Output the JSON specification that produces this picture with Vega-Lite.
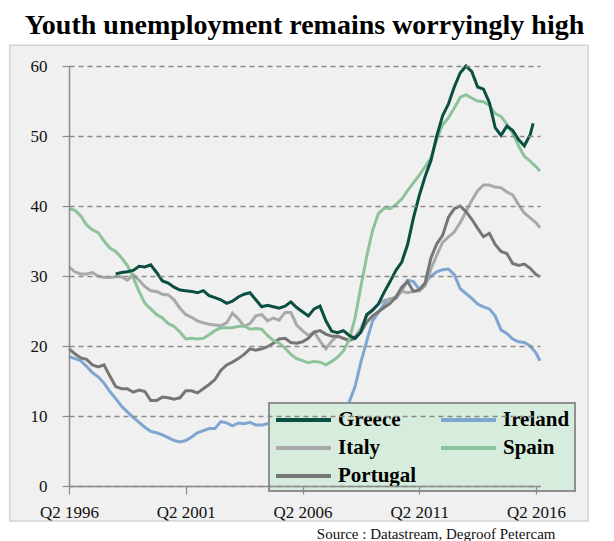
{
"$schema": "https://vega.github.io/schema/vega-lite/v6.json",
"width": 471, "height": 420,
"autosize": {"type": "none"},
"padding": {"left": 69, "top": 66, "right": 74, "bottom": 55},
"background": "white",
"title": {"text": "Youth unemployment remains worryingly high", "font": "Liberation Serif", "fontSize": 28, "fontWeight": "bold", "color": "black", "anchor": "middle", "baseline": "alphabetic", "offset": 11, "dy": 28},
"config": {"view": {"stroke": null}, "font": "Liberation Serif"},
"datasets": {
"series": [
{"country":"Ireland","year":1996.25,"rate":18.5},{"country":"Ireland","year":1996.5,"rate":18.2},{"country":"Ireland","year":1996.75,"rate":17.9},{"country":"Ireland","year":1997,"rate":17.1},{"country":"Ireland","year":1997.25,"rate":16.2},{"country":"Ireland","year":1997.5,"rate":15.6},{"country":"Ireland","year":1997.75,"rate":14.7},{"country":"Ireland","year":1998,"rate":13.5},{"country":"Ireland","year":1998.25,"rate":12.5},{"country":"Ireland","year":1998.5,"rate":11.4},
{"country":"Ireland","year":1998.75,"rate":10.6},{"country":"Ireland","year":1999,"rate":9.8},{"country":"Ireland","year":1999.25,"rate":9.1},{"country":"Ireland","year":1999.5,"rate":8.4},{"country":"Ireland","year":1999.75,"rate":7.8},{"country":"Ireland","year":2000,"rate":7.6},{"country":"Ireland","year":2000.25,"rate":7.3},{"country":"Ireland","year":2000.5,"rate":6.9},{"country":"Ireland","year":2000.75,"rate":6.5},{"country":"Ireland","year":2001,"rate":6.3},
{"country":"Ireland","year":2001.25,"rate":6.5},{"country":"Ireland","year":2001.5,"rate":7.0},{"country":"Ireland","year":2001.75,"rate":7.6},{"country":"Ireland","year":2002,"rate":7.9},{"country":"Ireland","year":2002.25,"rate":8.2},{"country":"Ireland","year":2002.5,"rate":8.2},{"country":"Ireland","year":2002.75,"rate":9.2},{"country":"Ireland","year":2003,"rate":9.0},{"country":"Ireland","year":2003.25,"rate":8.6},{"country":"Ireland","year":2003.5,"rate":9.0},
{"country":"Ireland","year":2003.75,"rate":8.9},{"country":"Ireland","year":2004,"rate":9.1},{"country":"Ireland","year":2004.25,"rate":8.7},{"country":"Ireland","year":2004.5,"rate":8.7},{"country":"Ireland","year":2004.75,"rate":8.9},{"country":"Ireland","year":2005,"rate":9.0},{"country":"Ireland","year":2005.25,"rate":8.8},{"country":"Ireland","year":2005.5,"rate":8.7},{"country":"Ireland","year":2005.75,"rate":8.6},{"country":"Ireland","year":2006,"rate":8.5},
{"country":"Ireland","year":2006.25,"rate":8.6},{"country":"Ireland","year":2006.5,"rate":8.8},{"country":"Ireland","year":2006.75,"rate":8.9},{"country":"Ireland","year":2007,"rate":8.8},{"country":"Ireland","year":2007.25,"rate":8.7},{"country":"Ireland","year":2007.5,"rate":8.9},{"country":"Ireland","year":2007.75,"rate":9.5},{"country":"Ireland","year":2008,"rate":10.5},{"country":"Ireland","year":2008.25,"rate":12.0},{"country":"Ireland","year":2008.5,"rate":14.2},
{"country":"Ireland","year":2008.75,"rate":17.7},{"country":"Ireland","year":2009,"rate":20.7},{"country":"Ireland","year":2009.25,"rate":23.6},{"country":"Ireland","year":2009.5,"rate":24.8},{"country":"Ireland","year":2009.75,"rate":26.0},{"country":"Ireland","year":2010,"rate":26.8},{"country":"Ireland","year":2010.25,"rate":26.8},{"country":"Ireland","year":2010.5,"rate":27.9},{"country":"Ireland","year":2010.75,"rate":29.4},{"country":"Ireland","year":2011,"rate":29.2},
{"country":"Ireland","year":2011.25,"rate":28.1},{"country":"Ireland","year":2011.5,"rate":29.0},{"country":"Ireland","year":2011.75,"rate":30.0},{"country":"Ireland","year":2012,"rate":30.6},{"country":"Ireland","year":2012.25,"rate":30.9},{"country":"Ireland","year":2012.5,"rate":31.0},{"country":"Ireland","year":2012.75,"rate":30.2},{"country":"Ireland","year":2013,"rate":28.2},{"country":"Ireland","year":2013.25,"rate":27.5},{"country":"Ireland","year":2013.5,"rate":26.8},
{"country":"Ireland","year":2013.75,"rate":26.0},{"country":"Ireland","year":2014,"rate":25.6},{"country":"Ireland","year":2014.25,"rate":25.3},{"country":"Ireland","year":2014.5,"rate":24.3},{"country":"Ireland","year":2014.75,"rate":22.3},{"country":"Ireland","year":2015,"rate":21.8},{"country":"Ireland","year":2015.25,"rate":21.0},{"country":"Ireland","year":2015.5,"rate":20.6},{"country":"Ireland","year":2015.75,"rate":20.5},{"country":"Ireland","year":2016,"rate":20.0},
{"country":"Ireland","year":2016.25,"rate":19.0},{"country":"Ireland","year":2016.42,"rate":17.9},

{"country":"Italy","year":1996.25,"rate":31.3},{"country":"Italy","year":1996.5,"rate":30.6},{"country":"Italy","year":1996.75,"rate":30.3},{"country":"Italy","year":1997,"rate":30.3},{"country":"Italy","year":1997.25,"rate":30.5},{"country":"Italy","year":1997.5,"rate":30.0},{"country":"Italy","year":1997.75,"rate":29.8},{"country":"Italy","year":1998,"rate":29.8},{"country":"Italy","year":1998.25,"rate":29.9},{"country":"Italy","year":1998.5,"rate":29.9},
{"country":"Italy","year":1998.75,"rate":29.4},{"country":"Italy","year":1999,"rate":30.2},{"country":"Italy","year":1999.25,"rate":29.4},{"country":"Italy","year":1999.5,"rate":28.5},{"country":"Italy","year":1999.75,"rate":27.9},{"country":"Italy","year":2000,"rate":27.8},{"country":"Italy","year":2000.25,"rate":27.4},{"country":"Italy","year":2000.5,"rate":27.3},{"country":"Italy","year":2000.75,"rate":26.6},{"country":"Italy","year":2001,"rate":25.4},
{"country":"Italy","year":2001.25,"rate":24.5},{"country":"Italy","year":2001.5,"rate":24.1},{"country":"Italy","year":2001.75,"rate":23.6},{"country":"Italy","year":2002,"rate":23.3},{"country":"Italy","year":2002.25,"rate":23.1},{"country":"Italy","year":2002.5,"rate":23.0},{"country":"Italy","year":2002.75,"rate":22.9},{"country":"Italy","year":2003,"rate":23.3},{"country":"Italy","year":2003.25,"rate":24.7},{"country":"Italy","year":2003.5,"rate":23.9},
{"country":"Italy","year":2003.75,"rate":22.8},{"country":"Italy","year":2004,"rate":23.2},{"country":"Italy","year":2004.25,"rate":24.3},{"country":"Italy","year":2004.5,"rate":24.5},{"country":"Italy","year":2004.75,"rate":23.6},{"country":"Italy","year":2005,"rate":24.0},{"country":"Italy","year":2005.25,"rate":23.7},{"country":"Italy","year":2005.5,"rate":24.8},{"country":"Italy","year":2005.75,"rate":24.8},{"country":"Italy","year":2006,"rate":23.0},
{"country":"Italy","year":2006.25,"rate":22.2},{"country":"Italy","year":2006.5,"rate":21.5},{"country":"Italy","year":2006.75,"rate":22.0},{"country":"Italy","year":2007,"rate":20.7},{"country":"Italy","year":2007.25,"rate":19.6},{"country":"Italy","year":2007.5,"rate":20.7},{"country":"Italy","year":2007.75,"rate":21.4},{"country":"Italy","year":2008,"rate":21.1},{"country":"Italy","year":2008.25,"rate":20.8},{"country":"Italy","year":2008.5,"rate":21.3},
{"country":"Italy","year":2008.75,"rate":22.5},{"country":"Italy","year":2009,"rate":24.3},{"country":"Italy","year":2009.25,"rate":25.2},{"country":"Italy","year":2009.5,"rate":26.0},{"country":"Italy","year":2009.75,"rate":26.5},{"country":"Italy","year":2010,"rate":26.7},{"country":"Italy","year":2010.25,"rate":27.0},{"country":"Italy","year":2010.5,"rate":27.8},{"country":"Italy","year":2010.75,"rate":27.6},{"country":"Italy","year":2011,"rate":27.8},
{"country":"Italy","year":2011.25,"rate":27.9},{"country":"Italy","year":2011.5,"rate":28.6},{"country":"Italy","year":2011.75,"rate":31.0},{"country":"Italy","year":2012,"rate":33.0},{"country":"Italy","year":2012.25,"rate":34.8},{"country":"Italy","year":2012.5,"rate":35.6},{"country":"Italy","year":2012.75,"rate":36.3},{"country":"Italy","year":2013,"rate":37.6},{"country":"Italy","year":2013.25,"rate":39.2},{"country":"Italy","year":2013.5,"rate":40.8},
{"country":"Italy","year":2013.75,"rate":42.2},{"country":"Italy","year":2014,"rate":43.0},{"country":"Italy","year":2014.25,"rate":43.0},{"country":"Italy","year":2014.5,"rate":42.7},{"country":"Italy","year":2014.75,"rate":42.6},{"country":"Italy","year":2015,"rate":42.0},{"country":"Italy","year":2015.25,"rate":41.6},{"country":"Italy","year":2015.5,"rate":40.2},{"country":"Italy","year":2015.75,"rate":39.0},{"country":"Italy","year":2016,"rate":38.3},
{"country":"Italy","year":2016.25,"rate":37.6},{"country":"Italy","year":2016.42,"rate":36.9},

{"country":"Portugal","year":1996.25,"rate":19.6},{"country":"Portugal","year":1996.5,"rate":18.9},{"country":"Portugal","year":1996.75,"rate":18.3},{"country":"Portugal","year":1997,"rate":18.1},{"country":"Portugal","year":1997.25,"rate":17.3},{"country":"Portugal","year":1997.5,"rate":17.0},{"country":"Portugal","year":1997.75,"rate":17.3},{"country":"Portugal","year":1998,"rate":15.7},{"country":"Portugal","year":1998.25,"rate":14.2},{"country":"Portugal","year":1998.5,"rate":13.9},
{"country":"Portugal","year":1998.75,"rate":13.9},{"country":"Portugal","year":1999,"rate":13.4},{"country":"Portugal","year":1999.25,"rate":13.7},{"country":"Portugal","year":1999.5,"rate":13.5},{"country":"Portugal","year":1999.75,"rate":12.2},{"country":"Portugal","year":2000,"rate":12.2},{"country":"Portugal","year":2000.25,"rate":12.7},{"country":"Portugal","year":2000.5,"rate":12.6},{"country":"Portugal","year":2000.75,"rate":12.4},{"country":"Portugal","year":2001,"rate":12.6},
{"country":"Portugal","year":2001.25,"rate":13.6},{"country":"Portugal","year":2001.5,"rate":13.6},{"country":"Portugal","year":2001.75,"rate":13.3},{"country":"Portugal","year":2002,"rate":13.9},{"country":"Portugal","year":2002.25,"rate":14.5},{"country":"Portugal","year":2002.5,"rate":15.2},{"country":"Portugal","year":2002.75,"rate":16.5},{"country":"Portugal","year":2003,"rate":17.3},{"country":"Portugal","year":2003.25,"rate":17.7},{"country":"Portugal","year":2003.5,"rate":18.2},
{"country":"Portugal","year":2003.75,"rate":18.8},{"country":"Portugal","year":2004,"rate":19.6},{"country":"Portugal","year":2004.25,"rate":19.4},{"country":"Portugal","year":2004.5,"rate":19.6},{"country":"Portugal","year":2004.75,"rate":19.9},{"country":"Portugal","year":2005,"rate":20.4},{"country":"Portugal","year":2005.25,"rate":21.0},{"country":"Portugal","year":2005.5,"rate":21.1},{"country":"Portugal","year":2005.75,"rate":20.5},{"country":"Portugal","year":2006,"rate":20.4},
{"country":"Portugal","year":2006.25,"rate":20.6},{"country":"Portugal","year":2006.5,"rate":21.1},{"country":"Portugal","year":2006.75,"rate":22.0},{"country":"Portugal","year":2007,"rate":22.2},{"country":"Portugal","year":2007.25,"rate":21.7},{"country":"Portugal","year":2007.5,"rate":21.4},{"country":"Portugal","year":2007.75,"rate":21.4},{"country":"Portugal","year":2008,"rate":21.1},{"country":"Portugal","year":2008.25,"rate":20.8},{"country":"Portugal","year":2008.5,"rate":21.1},
{"country":"Portugal","year":2008.75,"rate":22.0},{"country":"Portugal","year":2009,"rate":23.4},{"country":"Portugal","year":2009.25,"rate":24.3},{"country":"Portugal","year":2009.5,"rate":24.9},{"country":"Portugal","year":2009.75,"rate":25.5},{"country":"Portugal","year":2010,"rate":26.1},{"country":"Portugal","year":2010.25,"rate":27.0},{"country":"Portugal","year":2010.5,"rate":28.4},{"country":"Portugal","year":2010.75,"rate":29.2},{"country":"Portugal","year":2011,"rate":27.8},
{"country":"Portugal","year":2011.25,"rate":28.0},{"country":"Portugal","year":2011.5,"rate":29.0},{"country":"Portugal","year":2011.75,"rate":32.6},{"country":"Portugal","year":2012,"rate":34.6},{"country":"Portugal","year":2012.25,"rate":35.8},{"country":"Portugal","year":2012.5,"rate":38.4},{"country":"Portugal","year":2012.75,"rate":39.6},{"country":"Portugal","year":2013,"rate":40.0},{"country":"Portugal","year":2013.25,"rate":39.2},{"country":"Portugal","year":2013.5,"rate":38.1},
{"country":"Portugal","year":2013.75,"rate":36.8},{"country":"Portugal","year":2014,"rate":35.6},{"country":"Portugal","year":2014.25,"rate":36.1},{"country":"Portugal","year":2014.5,"rate":34.5},{"country":"Portugal","year":2014.75,"rate":33.5},{"country":"Portugal","year":2015,"rate":33.2},{"country":"Portugal","year":2015.25,"rate":31.8},{"country":"Portugal","year":2015.5,"rate":31.5},{"country":"Portugal","year":2015.75,"rate":31.7},{"country":"Portugal","year":2016,"rate":31.1},
{"country":"Portugal","year":2016.25,"rate":30.2},{"country":"Portugal","year":2016.42,"rate":29.9},

{"country":"Spain","year":1996.25,"rate":39.6},{"country":"Spain","year":1996.5,"rate":39.4},{"country":"Spain","year":1996.75,"rate":38.6},{"country":"Spain","year":1997,"rate":37.3},{"country":"Spain","year":1997.25,"rate":36.6},{"country":"Spain","year":1997.5,"rate":36.2},{"country":"Spain","year":1997.75,"rate":35.0},{"country":"Spain","year":1998,"rate":34.0},{"country":"Spain","year":1998.25,"rate":33.5},{"country":"Spain","year":1998.5,"rate":32.6},
{"country":"Spain","year":1998.75,"rate":31.5},{"country":"Spain","year":1999,"rate":29.8},{"country":"Spain","year":1999.25,"rate":27.8},{"country":"Spain","year":1999.5,"rate":26.1},{"country":"Spain","year":1999.75,"rate":25.3},{"country":"Spain","year":2000,"rate":24.5},{"country":"Spain","year":2000.25,"rate":24.0},{"country":"Spain","year":2000.5,"rate":23.2},{"country":"Spain","year":2000.75,"rate":22.8},{"country":"Spain","year":2001,"rate":22.0},
{"country":"Spain","year":2001.25,"rate":21.0},{"country":"Spain","year":2001.5,"rate":21.1},{"country":"Spain","year":2001.75,"rate":21.0},{"country":"Spain","year":2002,"rate":21.1},{"country":"Spain","year":2002.25,"rate":21.6},{"country":"Spain","year":2002.5,"rate":22.2},{"country":"Spain","year":2002.75,"rate":22.6},{"country":"Spain","year":2003,"rate":22.6},{"country":"Spain","year":2003.25,"rate":22.6},{"country":"Spain","year":2003.5,"rate":22.8},
{"country":"Spain","year":2003.75,"rate":22.9},{"country":"Spain","year":2004,"rate":22.4},{"country":"Spain","year":2004.25,"rate":22.5},{"country":"Spain","year":2004.5,"rate":22.4},{"country":"Spain","year":2004.75,"rate":21.5},{"country":"Spain","year":2005,"rate":20.8},{"country":"Spain","year":2005.25,"rate":20.4},{"country":"Spain","year":2005.5,"rate":19.7},{"country":"Spain","year":2005.75,"rate":18.8},{"country":"Spain","year":2006,"rate":18.2},
{"country":"Spain","year":2006.25,"rate":17.9},{"country":"Spain","year":2006.5,"rate":17.6},{"country":"Spain","year":2006.75,"rate":17.8},{"country":"Spain","year":2007,"rate":17.7},{"country":"Spain","year":2007.25,"rate":17.3},{"country":"Spain","year":2007.5,"rate":17.8},{"country":"Spain","year":2007.75,"rate":18.4},{"country":"Spain","year":2008,"rate":19.3},{"country":"Spain","year":2008.25,"rate":20.9},{"country":"Spain","year":2008.5,"rate":24.0},
{"country":"Spain","year":2008.75,"rate":28.5},{"country":"Spain","year":2009,"rate":32.8},{"country":"Spain","year":2009.25,"rate":36.5},{"country":"Spain","year":2009.5,"rate":38.9},{"country":"Spain","year":2009.75,"rate":39.7},{"country":"Spain","year":2010,"rate":39.6},{"country":"Spain","year":2010.25,"rate":40.2},{"country":"Spain","year":2010.5,"rate":41.0},{"country":"Spain","year":2010.75,"rate":42.2},{"country":"Spain","year":2011,"rate":43.3},
{"country":"Spain","year":2011.25,"rate":44.4},{"country":"Spain","year":2011.5,"rate":45.6},{"country":"Spain","year":2011.75,"rate":46.9},{"country":"Spain","year":2012,"rate":49.5},{"country":"Spain","year":2012.25,"rate":51.6},{"country":"Spain","year":2012.5,"rate":52.6},{"country":"Spain","year":2012.75,"rate":54.0},{"country":"Spain","year":2013,"rate":55.5},{"country":"Spain","year":2013.25,"rate":55.9},{"country":"Spain","year":2013.5,"rate":55.4},
{"country":"Spain","year":2013.75,"rate":55.0},{"country":"Spain","year":2014,"rate":54.9},{"country":"Spain","year":2014.25,"rate":54.4},{"country":"Spain","year":2014.5,"rate":53.2},{"country":"Spain","year":2014.75,"rate":52.8},{"country":"Spain","year":2015,"rate":51.7},{"country":"Spain","year":2015.25,"rate":50.4},{"country":"Spain","year":2015.5,"rate":48.6},{"country":"Spain","year":2015.75,"rate":47.1},{"country":"Spain","year":2016,"rate":46.4},
{"country":"Spain","year":2016.25,"rate":45.6},{"country":"Spain","year":2016.42,"rate":45.0},

{"country":"Greece","year":1998.25,"rate":30.3},{"country":"Greece","year":1998.5,"rate":30.5},{"country":"Greece","year":1998.75,"rate":30.6},{"country":"Greece","year":1999,"rate":30.8},{"country":"Greece","year":1999.25,"rate":31.4},{"country":"Greece","year":1999.5,"rate":31.3},{"country":"Greece","year":1999.75,"rate":31.6},{"country":"Greece","year":2000,"rate":30.5},{"country":"Greece","year":2000.25,"rate":29.3},{"country":"Greece","year":2000.5,"rate":29.0},
{"country":"Greece","year":2000.75,"rate":28.4},{"country":"Greece","year":2001,"rate":28.0},{"country":"Greece","year":2001.25,"rate":27.9},{"country":"Greece","year":2001.5,"rate":27.8},{"country":"Greece","year":2001.75,"rate":27.6},{"country":"Greece","year":2002,"rate":27.9},{"country":"Greece","year":2002.25,"rate":27.2},{"country":"Greece","year":2002.5,"rate":26.9},{"country":"Greece","year":2002.75,"rate":26.6},{"country":"Greece","year":2003,"rate":26.1},
{"country":"Greece","year":2003.25,"rate":26.4},{"country":"Greece","year":2003.5,"rate":27.0},{"country":"Greece","year":2003.75,"rate":27.4},{"country":"Greece","year":2004,"rate":27.6},{"country":"Greece","year":2004.25,"rate":26.6},{"country":"Greece","year":2004.5,"rate":25.6},{"country":"Greece","year":2004.75,"rate":25.8},{"country":"Greece","year":2005,"rate":25.6},{"country":"Greece","year":2005.25,"rate":25.4},{"country":"Greece","year":2005.5,"rate":25.7},
{"country":"Greece","year":2005.75,"rate":26.3},{"country":"Greece","year":2006,"rate":25.5},{"country":"Greece","year":2006.25,"rate":24.9},{"country":"Greece","year":2006.5,"rate":24.3},{"country":"Greece","year":2006.75,"rate":25.3},{"country":"Greece","year":2007,"rate":25.7},{"country":"Greece","year":2007.25,"rate":23.6},{"country":"Greece","year":2007.5,"rate":22.1},{"country":"Greece","year":2007.75,"rate":21.9},{"country":"Greece","year":2008,"rate":22.2},
{"country":"Greece","year":2008.25,"rate":21.5},{"country":"Greece","year":2008.5,"rate":21.1},{"country":"Greece","year":2008.75,"rate":22.0},{"country":"Greece","year":2009,"rate":24.5},{"country":"Greece","year":2009.25,"rate":25.1},{"country":"Greece","year":2009.5,"rate":26.0},{"country":"Greece","year":2009.75,"rate":27.7},{"country":"Greece","year":2010,"rate":29.2},{"country":"Greece","year":2010.25,"rate":30.8},{"country":"Greece","year":2010.5,"rate":32.0},
{"country":"Greece","year":2010.75,"rate":34.5},{"country":"Greece","year":2011,"rate":38.3},{"country":"Greece","year":2011.25,"rate":41.5},{"country":"Greece","year":2011.5,"rate":44.2},{"country":"Greece","year":2011.75,"rate":46.5},{"country":"Greece","year":2012,"rate":50.0},{"country":"Greece","year":2012.25,"rate":52.9},{"country":"Greece","year":2012.5,"rate":54.6},{"country":"Greece","year":2012.75,"rate":57.0},{"country":"Greece","year":2013,"rate":59.0},
{"country":"Greece","year":2013.25,"rate":60.0},{"country":"Greece","year":2013.5,"rate":59.2},{"country":"Greece","year":2013.75,"rate":57.0},{"country":"Greece","year":2014,"rate":56.7},{"country":"Greece","year":2014.25,"rate":54.8},{"country":"Greece","year":2014.5,"rate":51.2},{"country":"Greece","year":2014.75,"rate":50.1},{"country":"Greece","year":2015,"rate":51.4},{"country":"Greece","year":2015.25,"rate":50.8},{"country":"Greece","year":2015.5,"rate":49.5},
{"country":"Greece","year":2015.75,"rate":48.6},{"country":"Greece","year":2016,"rate":50.2},{"country":"Greece","year":2016.125,"rate":51.8}
]
},
"layer": [
{
"data": {"values": [{"panel": "background"}]},
"mark": {"type": "rect", "fill": "#f0f0f0", "stroke": "#d4d4d4", "strokeWidth": 1.5},
"encoding": {
"x": {"datum": 1993.71, "type": "quantitative"},
"x2": {"datum": 2018.48},
"y": {"datum": -5, "type": "quantitative"},
"y2": {"datum": 62.96}
}
},
{
"data": {"name": "series"},
"mark": {"type": "line", "strokeWidth": 3},
"encoding": {
"x": {"field": "year", "type": "quantitative",
"scale": {"domain": [1996.25, 2016.42], "nice": false, "zero": false},
"axis": {"values": [1996.25, 2001.25, 2006.25, 2011.25, 2016.25], "labelExpr": "'Q2 ' + floor(datum.value)", "grid": false, "domainColor": "#8c8c8c", "domainWidth": 1.5, "tickColor": "#8c8c8c", "tickSize": 8, "tickWidth": 1.2, "labelFont": "Liberation Serif", "labelFontSize": 17, "labelColor": "#111111", "labelPadding": 10, "labelFlush": false, "labelOverlap": false, "title": "Source : Datastream, Degroof Petercam", "titleFont": "Liberation Serif", "titleFontSize": 15, "titleFontWeight": "normal", "titleColor": "#111111", "titleAlign": "right", "titleX": 486, "titleY": 52, "titleBaseline": "alphabetic", "zindex": 1}},
"y": {"field": "rate", "type": "quantitative",
"scale": {"domain": [0, 60], "nice": false},
"axis": {"values": [0, 10, 20, 30, 40, 50, 60], "grid": true, "gridDash": [5, 4], "gridColor": "#8a8a8a", "gridWidth": 1.3, "domainColor": "#8c8c8c", "domainWidth": 1.5, "tickColor": "#8c8c8c", "tickSize": 7, "tickWidth": 1.2, "labelFont": "Liberation Serif", "labelFontSize": 17, "labelColor": "#111111", "labelPadding": 15, "title": null, "zindex": 1}},
"color": {"field": "country", "type": "nominal",
"scale": {"domain": ["Greece", "Italy", "Portugal", "Ireland", "Spain"], "range": ["#0b4f42", "#a9a9a9", "#767676", "#7fa6d1", "#8dc39a"]},
"legend": {"orient": "none", "legendX": 200, "legendY": 337, "columns": 2, "title": null, "symbolType": "M-1,0H4.5", "symbolSize": 400, "symbolStrokeWidth": 4, "labelFont": "Liberation Serif", "labelFontSize": 21, "labelFontWeight": "bold", "labelColor": "black", "labelOffset": 40, "labelLimit": 200, "fillColor": "#d6ecdc", "strokeColor": "#8f8f8f", "padding": 5, "columnPadding": 16, "rowPadding": 6, "gridAlign": "all",
"encode": {"legend": {"update": {"strokeWidth": {"value": 2}}}}}}
}
}
]
}
